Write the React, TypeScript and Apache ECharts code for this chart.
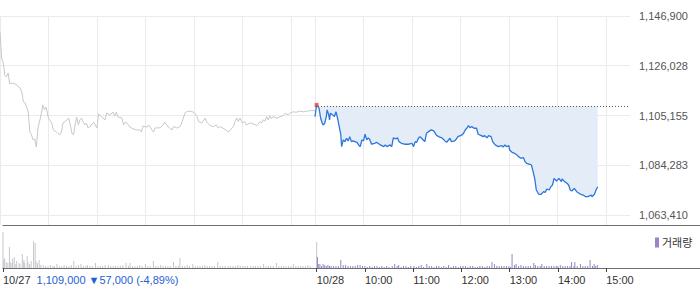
import React, { useEffect, useRef } from 'react';
import * as echarts from 'echarts';

// [minute since 10/27 09:00, price]; 10/28 09:00 = minute 390
const day1Price: [number, number][] = [
  [0, 1140300], [2, 1129300], [4, 1127200], [6, 1122100], [8, 1121300], [10, 1123000], [12, 1118400],
  [16, 1118800], [21, 1118000], [23, 1117100], [25, 1116700], [27, 1115000], [29, 1110800], [31, 1110400],
  [33, 1108700], [35, 1106600], [37, 1098200], [39, 1097000], [41, 1094900], [43, 1095300], [45, 1091900],
  [47, 1099900], [50, 1104100], [52, 1107500], [53, 1109600], [55, 1107500], [57, 1108700], [60, 1104100],
  [64, 1102000], [66, 1099100], [70, 1098200], [74, 1097000], [76, 1098200], [78, 1102000], [83, 1103300],
  [85, 1104100], [87, 1101200], [89, 1097800], [91, 1097000], [93, 1101200], [95, 1104500], [97, 1101200],
  [99, 1103300], [101, 1104100], [103, 1102400], [105, 1101200], [107, 1102000], [109, 1099900], [111, 1100300],
  [116, 1102400], [118, 1101200], [120, 1099900], [122, 1105800], [126, 1104500], [130, 1103300], [132, 1106200],
  [136, 1105400], [140, 1106600], [142, 1104900], [144, 1106600], [146, 1104500], [151, 1104100], [153, 1101200],
  [155, 1102400], [157, 1102000], [159, 1101200], [161, 1100300], [165, 1099500], [169, 1099100], [173, 1099100],
  [175, 1098200], [177, 1100700], [182, 1100300], [184, 1101200], [186, 1100300], [188, 1099100], [190, 1098200],
  [192, 1099900], [198, 1100000], [202, 1101200], [204, 1102400], [208, 1100500], [210, 1099900], [213, 1099100],
  [215, 1100500], [219, 1099900], [223, 1100500], [225, 1102000], [227, 1104100], [229, 1106200], [231, 1106700],
  [235, 1107000], [239, 1106600], [241, 1106200], [244, 1104700], [246, 1102600], [250, 1102000], [254, 1104100],
  [256, 1102400], [260, 1100900], [264, 1100500], [268, 1101200], [270, 1099900], [272, 1100500], [276, 1099900],
  [281, 1098700], [283, 1098200], [285, 1099100], [289, 1100500], [291, 1102600], [293, 1104100], [295, 1102600],
  [297, 1104100], [300, 1102000], [303, 1102600], [305, 1101200], [310, 1102000], [314, 1101600], [318, 1100900],
  [322, 1102600], [324, 1102000], [326, 1103300], [328, 1102800], [330, 1104700], [332, 1103300], [334, 1105100],
  [336, 1103700], [338, 1104700], [343, 1104000], [347, 1104700], [351, 1105100], [353, 1106100], [357, 1105400],
  [359, 1106100], [363, 1106700], [367, 1106500], [371, 1107000], [376, 1106700], [380, 1107000], [384, 1107200],
  [390, 1107200],
];

const day2Price: [number, number][] = [
  [390, 1104700], [392, 1109600], [395, 1108200], [397, 1104000], [399, 1101900], [400, 1101200], [402, 1101900],
  [404, 1104700], [405, 1107500], [407, 1105400], [408, 1103300], [409, 1106100], [412, 1105400], [414, 1104700],
  [416, 1106700], [418, 1104000], [420, 1100500], [422, 1097000], [423, 1092100], [425, 1094900], [427, 1094200],
  [429, 1095600], [431, 1094500], [433, 1096300], [435, 1094200], [437, 1094500], [442, 1093900], [444, 1092800],
  [446, 1092100], [448, 1094900], [450, 1094500], [452, 1097300], [454, 1094900], [456, 1095800], [458, 1094900],
  [460, 1093100], [464, 1093500], [466, 1093900], [468, 1093500], [471, 1092800], [475, 1092100], [477, 1092800],
  [479, 1092100], [483, 1092800], [485, 1092100], [487, 1095800], [490, 1095300], [492, 1095800], [494, 1094200],
  [497, 1093500], [501, 1093100], [506, 1093100], [510, 1093500], [512, 1092100], [514, 1094200], [516, 1093900],
  [518, 1095600], [520, 1096300], [522, 1095600], [524, 1094900], [526, 1094200], [528, 1097700], [532, 1098700],
  [534, 1099100], [537, 1098700], [540, 1097000], [543, 1096300], [547, 1095800], [551, 1094500], [553, 1093900],
  [557, 1095600], [559, 1094200], [563, 1094500], [565, 1095300], [567, 1096300], [572, 1097000], [574, 1097700],
  [576, 1099100], [578, 1099800], [580, 1100900], [582, 1100000], [584, 1100500], [587, 1099800], [590, 1099800],
  [592, 1097300], [596, 1096700], [598, 1096300], [600, 1096700], [603, 1095800], [605, 1096700], [608, 1096300],
  [610, 1094200], [613, 1092800], [617, 1092100], [621, 1092500], [623, 1091900], [625, 1092800], [627, 1092100],
  [630, 1092500], [631, 1090700], [634, 1089700], [637, 1089300], [640, 1088600], [642, 1087900], [645, 1087200],
  [648, 1087500], [650, 1085800], [652, 1085100], [656, 1084700], [658, 1084400], [660, 1081600], [662, 1078800],
  [664, 1073900], [667, 1072100], [670, 1072100], [673, 1073200], [675, 1072900], [677, 1074300], [680, 1073900],
  [682, 1075300], [684, 1076000], [686, 1078800], [689, 1077700], [692, 1078800], [695, 1077400], [696, 1078500],
  [699, 1077400], [702, 1076700], [704, 1076000], [706, 1073900], [708, 1073500], [711, 1074600], [714, 1073200],
  [717, 1072500], [719, 1072100], [722, 1071800], [725, 1071100], [728, 1071100], [732, 1071800], [733, 1071100],
  [736, 1072100], [738, 1073900], [740, 1075300],
];

const day1Volume: [number, number][] = [
  [0, 36], [1, 8], [2, 10], [4, 6], [6, 5], [8, 21], [9, 6], [11, 5], [12, 9], [14, 11], [16, 4], [17, 7], [20, 5],
  [21, 4], [24, 14], [25, 6], [26, 8], [27, 5], [30, 12], [31, 6], [33, 4], [35, 7], [38, 27], [40, 25], [41, 7],
  [43, 5], [45, 8], [47, 3], [50, 3], [53, 2], [56, 2], [59, 3], [62, 2], [64, 2], [67, 4], [70, 2], [73, 2], [76, 3],
  [79, 2], [82, 2], [85, 3], [88, 7], [91, 2], [94, 3], [97, 4], [100, 2], [103, 2], [105, 3], [108, 2], [111, 2],
  [115, 5], [118, 2], [121, 2], [124, 2], [127, 3], [131, 3], [134, 2], [137, 2], [140, 2], [143, 2], [146, 2],
  [149, 3], [153, 5], [156, 2], [158, 5], [161, 2], [164, 2], [167, 2], [170, 3], [173, 2], [177, 4], [180, 2],
  [183, 2], [187, 7], [190, 2], [193, 2], [196, 3], [199, 2], [202, 2], [205, 2], [208, 2], [212, 6], [215, 2],
  [218, 2], [220, 10], [223, 2], [226, 2], [229, 3], [232, 2], [236, 4], [239, 2], [242, 2], [245, 2], [248, 2],
  [251, 3], [254, 2], [257, 2], [260, 2], [263, 2], [267, 6], [270, 2], [273, 2], [276, 2], [280, 2], [283, 2],
  [286, 2], [289, 2], [292, 3], [295, 2], [298, 2], [301, 2], [304, 2], [308, 2], [311, 2], [314, 2], [317, 2],
  [320, 2], [324, 4], [327, 2], [330, 2], [333, 2], [336, 2], [340, 5], [343, 2], [346, 2], [349, 2], [352, 2],
  [355, 2], [358, 2], [361, 4], [364, 2], [367, 2], [370, 2], [373, 2], [376, 2], [379, 3], [382, 2], [390, 26],
];

const day2Volume: [number, number][] = [
  [391, 11], [392, 4], [394, 4], [396, 2], [398, 4], [400, 3], [402, 2], [404, 3], [406, 2], [408, 2], [411, 2],
  [414, 2], [417, 2], [420, 8], [423, 3], [426, 3], [429, 2], [432, 2], [435, 2], [438, 2], [441, 3], [444, 3],
  [447, 2], [450, 2], [453, 1], [456, 2], [459, 1], [462, 2], [465, 2], [468, 1], [471, 2], [474, 1], [477, 2],
  [480, 1], [484, 2], [487, 4], [490, 2], [492, 3], [495, 1], [498, 2], [501, 2], [504, 1], [507, 2], [511, 2],
  [514, 1], [517, 2], [520, 3], [523, 1], [527, 4], [530, 2], [533, 2], [536, 1], [539, 2], [542, 2], [545, 1],
  [548, 2], [551, 1], [554, 3], [557, 1], [560, 2], [563, 2], [566, 1], [569, 2], [572, 2], [575, 2], [578, 1],
  [581, 2], [584, 2], [587, 1], [590, 1], [593, 2], [596, 2], [599, 1], [602, 2], [605, 2], [608, 6], [611, 4],
  [614, 2], [617, 2], [620, 2], [623, 2], [626, 2], [629, 2], [631, 1], [633, 14], [636, 3], [638, 4], [641, 2],
  [644, 3], [647, 2], [650, 2], [653, 2], [656, 2], [660, 5], [662, 3], [665, 2], [668, 2], [670, 4], [673, 2],
  [676, 2], [679, 2], [682, 2], [685, 2], [688, 2], [690, 2], [693, 3], [696, 2], [699, 2], [702, 2], [705, 2],
  [707, 6], [710, 2], [711, 6], [714, 2], [718, 4], [721, 2], [724, 2], [727, 2], [730, 8], [733, 2], [735, 4],
  [737, 2], [739, 3],
];

const yTickValues = [1063410, 1084283, 1105155, 1126028, 1146900];
const prevClose = 1109000;
const tickMinutes = [0, 390, 450, 510, 570, 630, 690, 750];
const tickLabels = ['10/27', '10/28', '10:00', '11:00', '12:00', '13:00', '14:00', '15:00'];
const summaryText = '1,109,000 ▼57,000 (-4,89%)';
const volumeName = '거래량';

const SESSION = 390; // minutes per trading day
const FONT = "'Liberation Sans', 'Noto Sans CJK KR', sans-serif";

export default function App() {
  const ref = useRef<HTMLDivElement>(null);

  useEffect(() => {
    if (!ref.current) return;
    const chart = echarts.init(ref.current, undefined, { renderer: 'svg' });

    const gridLines: number[] = [];
    for (let m = 0; m < SESSION; m += 60) gridLines.push(m);
    for (let m = SESSION; m < SESSION * 2; m += 60) gridLines.push(m);

    // main plot: 16 -> 215 covers yTickValues, extended to 225
    const yMax = yTickValues[yTickValues.length - 1];
    const yMinTick = yTickValues[0];
    const perPx = (yMax - yMinTick) / 199;
    const yMin = yMax - perPx * 209;

    let hi = day2Price[0];
    day2Price.forEach((p) => { if (p[1] > hi[1]) hi = p; });

    const option: any = {
      animation: false,
      textStyle: { fontFamily: FONT },
      grid: [
        { left: 0, top: 16, width: 630, height: 209 },
        { left: 0, top: 225, width: 700, height: 43 },
      ],
      legend: {
        data: [volumeName],
        left: 650,
        top: 232,
        icon: 'rect',
        itemWidth: 4,
        itemHeight: 10,
        itemGap: 4,
        selectedMode: false,
        textStyle: { fontSize: 11, color: '#333', fontFamily: FONT, padding: [0, 0, 0, -2] },
      },
      xAxis: [
        {
          type: 'value', gridIndex: 0, min: 0, max: SESSION * 2,
          axisLine: { show: false },
          axisTick: { show: true, length: 0, customValues: gridLines },
          axisLabel: { show: false },
          splitLine: { show: true, lineStyle: { color: '#ebebeb', width: 1 } },
        },
        {
          type: 'value', gridIndex: 1, min: 0, max: (SESSION * 2 * 700) / 630, position: 'bottom',
          axisLine: { show: true, lineStyle: { color: '#6e6e6e', width: 1 } },
          axisTick: { show: true, length: 4, inside: false, customValues: tickMinutes, lineStyle: { color: '#444' } },
          axisLabel: {
            show: true,
            customValues: tickMinutes,
            align: 'left',
            margin: 6,
            fontSize: 11,
            color: '#333',
            fontFamily: FONT,
            formatter: (v: number) => {
              const i = tickMinutes.indexOf(Math.round(v));
              if (i < 0) return '';
              if (i === 0) return `{d|${tickLabels[0]}} {p|${summaryText}}`;
              return tickLabels[i];
            },
            rich: {
              d: { color: '#333', fontSize: 11, fontFamily: FONT, padding: [0, 3, 0, 0] },
              p: { color: '#1f5fd1', fontSize: 11, fontFamily: FONT },
            },
          },
          splitLine: { show: false },
        },
        {
          type: 'value', gridIndex: 1, min: 0, max: (SESSION * 2 * 700) / 630, position: 'top',
          axisLine: { show: true, lineStyle: { color: '#6e6e6e', width: 1 } },
          axisTick: { show: false },
          axisLabel: { show: false },
          splitLine: { show: false },
        },
      ],
      yAxis: [
        {
          type: 'value', gridIndex: 0, position: 'right', min: yMin, max: yMax,
          axisLine: { show: false },
          axisTick: { show: false, customValues: yTickValues },
          axisLabel: {
            show: true, customValues: yTickValues, margin: 9, fontSize: 11, color: '#555',
            fontFamily: FONT,
            formatter: (v: number) => Math.round(v).toLocaleString('en-US'),
          },
          splitLine: { show: true, lineStyle: { color: '#ebebeb', width: 1 } },
        },
        {
          type: 'value', gridIndex: 1, min: 0, max: 43,
          axisLine: { show: false }, axisTick: { show: false }, axisLabel: { show: false }, splitLine: { show: false },
        },
      ],
      series: [
        {
          name: '10/27',
          type: 'line', xAxisIndex: 0, yAxisIndex: 0, data: day1Price,
          showSymbol: false, lineStyle: { color: '#c7c8cc', width: 1 }, z: 2,
        },
        {
          name: '10/28',
          type: 'line', xAxisIndex: 0, yAxisIndex: 0, data: day2Price,
          showSymbol: false,
          lineStyle: { color: '#2c76dc', width: 1.3 },
          areaStyle: { origin: prevClose, color: '#e4ecf8', opacity: 1 },
          z: 3,
          markLine: {
            silent: true, symbol: 'none', label: { show: false },
            lineStyle: { color: '#555', width: 1, type: [1, 2] },
            data: [[{ coord: [SESSION, prevClose] }, { coord: [SESSION * 2, prevClose] }]],
          },
        },
        {
          name: 'high',
          type: 'scatter', xAxisIndex: 0, yAxisIndex: 0, data: [hi],
          symbol: 'rect', symbolSize: 4, itemStyle: { color: '#e8433b' }, z: 5,
        },
        {
          name: '전일',
          type: 'bar', xAxisIndex: 1, yAxisIndex: 1, data: day1Volume,
          barWidth: 1, barGap: '-100%', itemStyle: { color: '#c5c7cb' },
        },
        {
          name: volumeName,
          type: 'bar', xAxisIndex: 1, yAxisIndex: 1, data: day2Volume,
          barWidth: 1, barGap: '-100%', itemStyle: { color: '#9884c6' },
        },
      ],
    };

    chart.setOption(option);
    return () => chart.dispose();
  }, []);

  return (
    <div
      ref={ref}
      style={{ position: 'fixed', left: 0, top: 0, width: 700, height: 289, background: '#fff' }}
    />
  );
}
